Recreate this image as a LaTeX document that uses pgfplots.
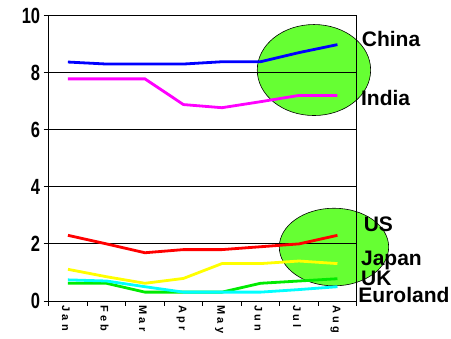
\documentclass[border=0pt]{standalone}
\usepackage{pgfplots}
\pgfplotsset{compat=1.18}
\usepackage{fontspec}
\setmainfont{Liberation Sans}
\newfontfamily\narrowfont[FakeStretch=0.75]{Liberation Sans}
\newfontfamily\spacedfont[LetterSpace=30]{Liberation Sans}
\definecolor{ellgreen}{RGB}{102,255,51}
\definecolor{cblue}{RGB}{0,0,255}
\definecolor{cmag}{RGB}{255,0,255}
\definecolor{cred}{RGB}{255,0,0}
\definecolor{cyel}{RGB}{255,255,0}
\definecolor{cgreen}{RGB}{0,235,0}
\definecolor{ccyan}{RGB}{0,255,255}
\begin{document}
\begin{tikzpicture}
\begin{axis}[
  scale only axis, width=308pt, height=285.5pt,
  xmin=-0.5, xmax=7.5, ymin=0, ymax=10,
  xtick={-0.5,0.5,...,7.5}, x tick label as interval,
  xticklabels={Jan,Feb,Mar,Apr,May,Jun,Jul,Aug},
  ytick={0,2,4,6,8,10},
  ymajorgrids, grid style={black, line width=0.8pt},
  axis line style={black, line width=0.8pt},
  tick style={black, line width=0.8pt},
  tick align=outside, major tick length=5pt,
  tick pos=left,
  clip=false,
  /pgf/number format/assume math mode=true,
  yticklabel style={font=\narrowfont\bfseries\fontsize{22}{22}\selectfont, xshift=0pt},
  xticklabel style={font=\spacedfont\bfseries\fontsize{11}{11}\selectfont, rotate=-90, anchor=west, xshift=-4pt, yshift=-2pt},
  every axis plot/.append style={line width=2.8pt, no markers},
]
\coordinate (o) at (rel axis cs:0,0);
\draw[fill=ellgreen, draw=black, line width=0.6pt] (axis cs:6.39,8.09) ellipse [x radius=56.7pt, y radius=45.5pt];
\draw[fill=ellgreen, draw=black, line width=0.6pt] (axis cs:6.91,1.89) ellipse [x radius=54.7pt, y radius=38.8pt];
\draw[black, line width=0.8pt] (axis cs:-0.5,8) -- (axis cs:7.5,8);
\draw[black, line width=0.8pt] (axis cs:-0.5,2) -- (axis cs:7.5,2);
\draw[black, line width=0.8pt] (axis cs:7.5,-0.14) -- (axis cs:7.5,10);
\addplot[cblue] coordinates {(0,8.37) (1,8.3) (2,8.3) (3,8.3) (4,8.38) (5,8.38) (6,8.7) (7,8.98)};
\addplot[cmag] coordinates {(0,7.78) (1,7.78) (2,7.78) (3,6.88) (4,6.77) (5,6.98) (6,7.2) (7,7.2)};
\addplot[cred] coordinates {(0,2.3) (1,2.0) (2,1.69) (3,1.8) (4,1.8) (5,1.9) (6,2.0) (7,2.3)};
\addplot[cyel] coordinates {(0,1.11) (1,0.85) (2,0.62) (3,0.79) (4,1.31) (5,1.31) (6,1.4) (7,1.31)};
\addplot[cgreen] coordinates {(0,0.62) (1,0.62) (2,0.31) (3,0.31) (4,0.31) (5,0.62) (6,0.7) (7,0.78)};
\addplot[ccyan] coordinates {(0,0.74) (1,0.7) (2,0.5) (3,0.31) (4,0.31) (5,0.31) (6,0.4) (7,0.5)};
\node[anchor=base west, inner sep=0pt, font=\bfseries\fontsize{21}{21}\selectfont] at (axis cs:7.63,8.93) {China};
\node[anchor=base west, inner sep=0pt, font=\bfseries\fontsize{21}{21}\selectfont] at (axis cs:7.61,6.83) {India};
\node[anchor=base west, inner sep=0pt, font=\bfseries\fontsize{21}{21}\selectfont] at (axis cs:7.68,2.43) {US};
\node[anchor=base west, inner sep=0pt, font=\bfseries\fontsize{21}{21}\selectfont] at (axis cs:7.61,1.26) {Japan};
\node[anchor=base west, inner sep=0pt, font=\bfseries\fontsize{21}{21}\selectfont] at (axis cs:7.61,0.56) {UK};
\node[anchor=base west, inner sep=0pt, font=\bfseries\fontsize{21}{21}\selectfont] at (axis cs:7.54,-0.07) {Euroland};
\end{axis}
\pgfresetboundingbox
\path ([shift={(-48.7pt,-38pt)}]o) rectangle ([shift={(402.3pt,301pt)}]o);
\end{tikzpicture}
\end{document}
